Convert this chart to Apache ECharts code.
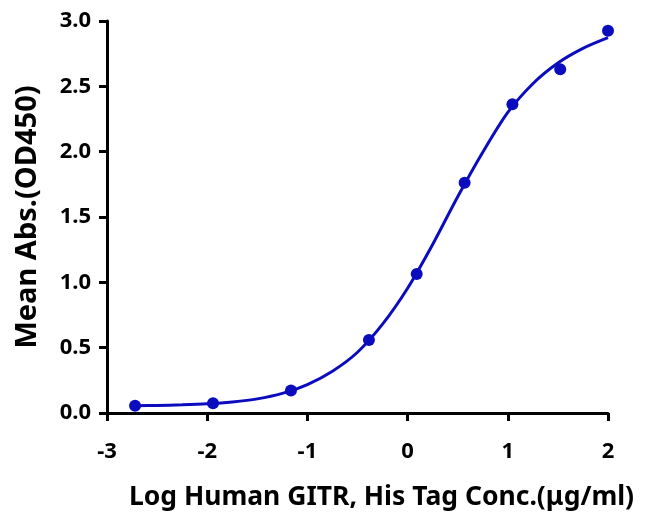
<!DOCTYPE html>
<html>
	<head>
		<meta charset="utf-8">
		<title>chart</title>
		<script src="https://cdn.jsdelivr.net/npm/echarts@6/dist/echarts.min.js"></script>
		<style>
			html,body{margin:0;padding:0;background:#fff;}
		</style>
	</head>
	<body>
		<div id="x" style="width: 648px; height: 513px;"></div>
	</body>

	<script type="text/javascript">
		// measured points (log conc, mean abs)
		var logConc=[-2.72,-1.942,-1.164,-0.386,0.091,0.569,1.046,1.523,2.0];
		var meanAbs=[0.056,0.074,0.172,0.559,1.064,1.762,2.363,2.630,2.925];
		// fitted curve at even steps
		var fitX=[-2.72,-2.5,-2.25,-2.0,-1.75,-1.5,-1.25,-1.0,-0.75,-0.5,-0.25,0,0.25,0.5,0.75,1.0,1.25,1.5,1.75,2.0];
		var fitY=[0.055,0.058,0.063,0.071,0.085,0.108,0.150,0.218,0.320,0.465,0.680,0.955,1.290,1.655,1.995,2.300,2.520,2.678,2.790,2.872];
		var xTicks=[-3,-2,-1,0,1,2];

		var blue='#0c0cbf';
		var font='"Noto Sans", sans-serif';

		var pts=[],fit=[];
		for (var i = 0; i < logConc.length; i++) { pts.push([logConc[i],meanAbs[i]]); }
		for (var j = 0; j < fitX.length; j++) { fit.push([fitX[j],fitY[j]]); }

		var axisLine={ show:true, onZero:false, lineStyle:{ color:'#000', width:3 } };
		var axisTick={ show:true, length:8, inside:false, lineStyle:{ color:'#000', width:3 } };

		option = {
			backgroundColor:'#fff',
			animation:false,
			grid:{ left:107, right:40, top:21, bottom:100, outerBoundsMode:'none' },
			xAxis:{
				type:'value',
				min:xTicks[0], max:xTicks[xTicks.length-1], interval:1,
				name:'Log Human GITR, His Tag Conc.(μg/ml)',
				nameLocation:'middle', nameGap:71,
				nameTextStyle:{ fontFamily:font, fontWeight:'bold', fontSize:26.5, color:'#000', padding:[0,0,0,48] },
				axisLine:axisLine, axisTick:axisTick,
				axisLabel:{ fontFamily:font, fontWeight:'bold', fontSize:22, color:'#000', margin:28 },
				splitLine:{ show:false }
			},
			yAxis:{
				type:'value',
				min:0, max:3, interval:0.5,
				name:'Mean Abs.(OD450)',
				nameLocation:'middle', nameGap:65,
				nameTextStyle:{ fontFamily:font, fontWeight:'bold', fontSize:29, color:'#000' },
				axisLine:axisLine, axisTick:axisTick,
				axisLabel:{ fontFamily:font, fontWeight:'bold', fontSize:22, color:'#000', margin:16,
					formatter:function(v){ return v.toFixed(1); } },
				splitLine:{ show:false }
			},
			series:[{
				type:'line',
				data:fit,
				smooth:0.3,
				showSymbol:false,
				lineStyle:{ color:blue, width:3 },
				z:2
			},{
				type:'scatter',
				data:pts,
				symbol:'circle',
				symbolSize:12,
				itemStyle:{ color:blue, opacity:1 },
				z:3
			}]
		};
		var mychart=echarts.init(document.getElementById("x"));
		mychart.setOption(option);
	</script>
</html>
